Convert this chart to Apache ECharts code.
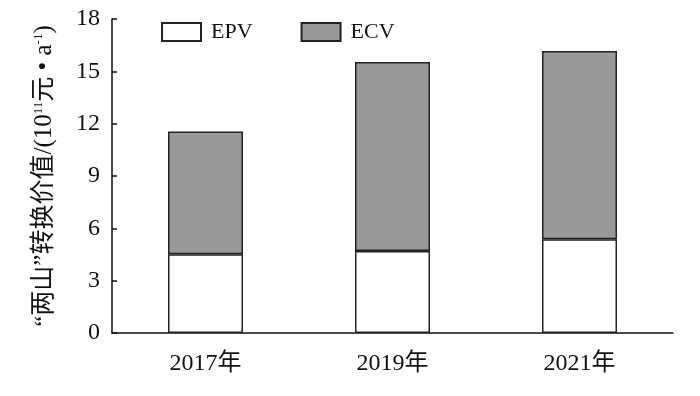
<!DOCTYPE html>
<html>
<head>
<meta charset="utf-8">
<script src="https://cdn.jsdelivr.net/npm/echarts@6/dist/echarts.min.js"></script>
<style>
html,body{margin:0;padding:0;background:#fff;}
#chart{width:700px;height:396px;}
</style>
</head>
<body>
<div id="chart"></div>
<script>
var categories = ['2017年', '2019年', '2021年'];
var epvValues = [4.52, 4.70, 5.38];
var ecvValues = [7.03, 10.84, 10.79];
var yTicks = { min: 0, max: 18, interval: 3 };

var serif = '"Liberation Serif", "Times New Roman", "Noto Sans CJK SC", serif';
var chart = echarts.init(document.getElementById('chart'));
chart.setOption({
  animation: false,
  backgroundColor: '#fff',
  textStyle: { fontFamily: serif },
  legend: {
    left: 161,
    top: 21,
    padding: 0,
    itemWidth: 39,
    itemHeight: 18,
    itemGap: 48,
    icon: 'rect',
    textStyle: { fontFamily: serif, fontSize: 22, color: '#111', padding: [2, 0, 0, 5] },
    data: ['EPV', 'ECV']
  },
  grid: { left: 112, right: 27, top: 19, bottom: 63, containLabel: false },
  xAxis: {
    type: 'category',
    data: categories,
    axisLine: { lineStyle: { color: '#111', width: 1.5 } },
    axisTick: { show: false },
    axisLabel: { fontFamily: serif, fontSize: 24, color: '#111', margin: 19 }
  },
  yAxis: {
    type: 'value',
    min: yTicks.min,
    max: yTicks.max,
    interval: yTicks.interval,
    splitLine: { show: false },
    axisLine: { show: true, lineStyle: { color: '#111', width: 1.5 } },
    axisTick: { show: true, inside: true, length: 5, lineStyle: { color: '#111', width: 1.5 } },
    axisLabel: { fontFamily: serif, fontSize: 24, color: '#111', margin: 12 },
    name: '{t|“两山”转换价值/(10}{s|11}{t|元 • a}{s|-1}{t|)}',
    nameLocation: 'middle',
    nameRotate: 90,
    nameGap: 55,
    nameTextStyle: {
      rich: {
        t: { fontFamily: serif, fontSize: 25, color: '#111' },
        s: { fontFamily: serif, fontSize: 13, color: '#111', verticalAlign: 'top', padding: [0, 0, 11, 0] }
      }
    }
  },
  series: [
    {
      name: 'EPV',
      type: 'bar',
      stack: 'total',
      barWidth: 75,
      data: epvValues,
      itemStyle: { color: '#ffffff', borderColor: '#222', borderWidth: 1.5 }
    },
    {
      name: 'ECV',
      type: 'bar',
      stack: 'total',
      barWidth: 75,
      data: ecvValues,
      itemStyle: { color: '#999999', borderColor: '#222', borderWidth: 1.5 }
    }
  ]
});
</script>
</body>
</html>
